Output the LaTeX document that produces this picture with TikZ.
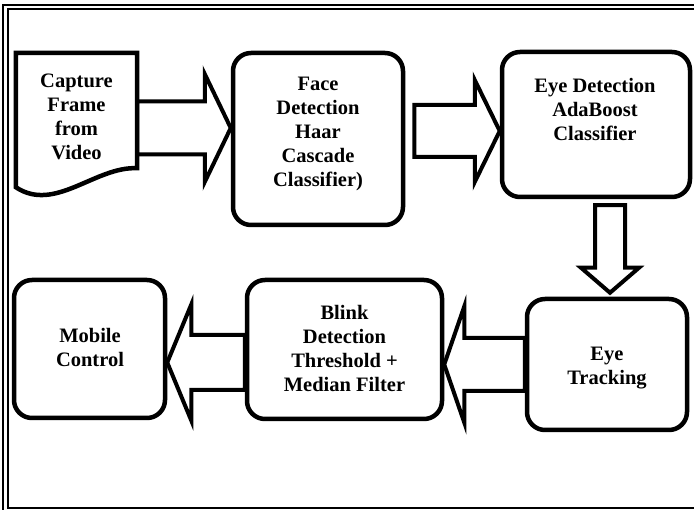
\documentclass[tikz,border=0pt]{standalone}
\usepackage{fontspec}
\setmainfont{Liberation Serif}
\usetikzlibrary{calc,backgrounds}

\tikzset{
  frameline/.style={line width=1.6pt},
  procbox/.style={draw, line width=4.5pt, rounded corners=18pt, inner sep=0pt},
  boxtext/.style={align=center, inner sep=0pt,
    font=\bfseries\fontsize{20.5}{24}\selectfont},
  barrow/.style={draw, line width=4pt, fill=white, line join=miter},
}

% horizontal block arrow: start, tip, shaft half-height, head half-height, head length
\newcommand\blockarrowh[5]{%
  \draw[barrow] let \p1=#1, \p2=#2 in
    (\x1,{\y1+#3}) -- ({\x2-(#5)},{\y1+#3}) -- ({\x2-(#5)},{\y1+#4}) -- (\x2,\y1)
    -- ({\x2-(#5)},{\y1-#4}) -- ({\x2-(#5)},{\y1-#3}) -- (\x1,{\y1-#3}) -- cycle;}
% downward block arrow: start, tip, shaft half-width, head half-width, head length
\newcommand\blockarrowv[5]{%
  \draw[barrow] let \p1=#1, \p2=#2 in
    ({\x1-#3},\y1) -- ({\x1-#3},{\y2+#5}) -- ({\x1-#4},{\y2+#5}) -- (\x1,\y2)
    -- ({\x1+#4},{\y2+#5}) -- ({\x1+#3},{\y2+#5}) -- ({\x1+#3},\y1) -- cycle;}

\begin{document}
\begin{tikzpicture}[x=1pt,y=-1pt]
\useasboundingbox (0,0) rectangle (694,510);
\clip (0,0) rectangle (694,510);

% double page frame
\draw[frameline] (3,5) rectangle (720,530);
\draw[frameline] (8,9) rectangle (720,508);

% document-shaped start step
\node[boxtext, minimum width=121pt, minimum height=126pt] (doc) at (76.5,117)
  {Capture\\Frame\\ from\\Video};
\draw[line width=4.5pt, line join=miter]
  ($(doc.north west)+(0,-1)$) -- ($(doc.north east)+(0,-1)$) -- ($(doc.south east)+(0,-12)$)
  .. controls ($(doc.south east)+(-42,-14)$) and ($(doc.south west)+(39,33)$)
  .. ($(doc.south west)+(0,7)$) -- cycle;

% processing steps
\node[procbox, minimum width=170pt, minimum height=172pt] (face) at (318,139) {};
\node[boxtext] (facetext) at ($(face.center)+(0,-5)$)
  {Face\\Detection\\Haar\\Cascade\\Classifier)};

\node[procbox, minimum width=188pt, minimum height=145pt] (eyedet) at (596,124.5) {};
\node[boxtext] (eyedettext) at ($(eyedet.center)+(-1,-15)$)
  {Eye Detection\\AdaBoost\\Classifier};

\node[procbox, minimum width=160pt, minimum height=131pt] (track) at (607,364.5) {};
\node[boxtext] (tracktext) at ($(track.center)+(0,3.5)$) {Eye\\Tracking};

\node[procbox, minimum width=195pt, minimum height=139pt] (blink) at (344.5,349.5) {};
\node[boxtext] (blinktext) at ($(blink.center)+(0,-1)$)
  {Blink\\Detection\\Threshold +\\Median Filter};

\node[procbox, minimum width=151pt, minimum height=138pt] (mobile) at (89.5,349) {};
\node[boxtext] (mobiletext) at ($(mobile.center)+(0.5,-2)$) {Mobile\\Control};

% block arrows between the steps
\begin{scope}[on background layer]
  \blockarrowh{($(doc.east)+(0,11)$)}{(face.west)}{26.5pt}{54pt}{26pt}
  \blockarrowh{($(face.east)+(9,-8)$)}{(eyedet.west)}{26pt}{51pt}{25pt}
  \blockarrowv{($(eyedet.south)+(14,6)$)}{($(track.north)+(0,-4)$)}{15pt}{29pt}{25pt}
  \blockarrowh{(track.west)}{(blink.east)}{26.5pt}{58pt}{-20pt}
  \blockarrowh{($(blink.west)+(0,13)$)}{(mobile.east)}{27.5pt}{58pt}{-24pt}
\end{scope}
\end{tikzpicture}
\end{document}
